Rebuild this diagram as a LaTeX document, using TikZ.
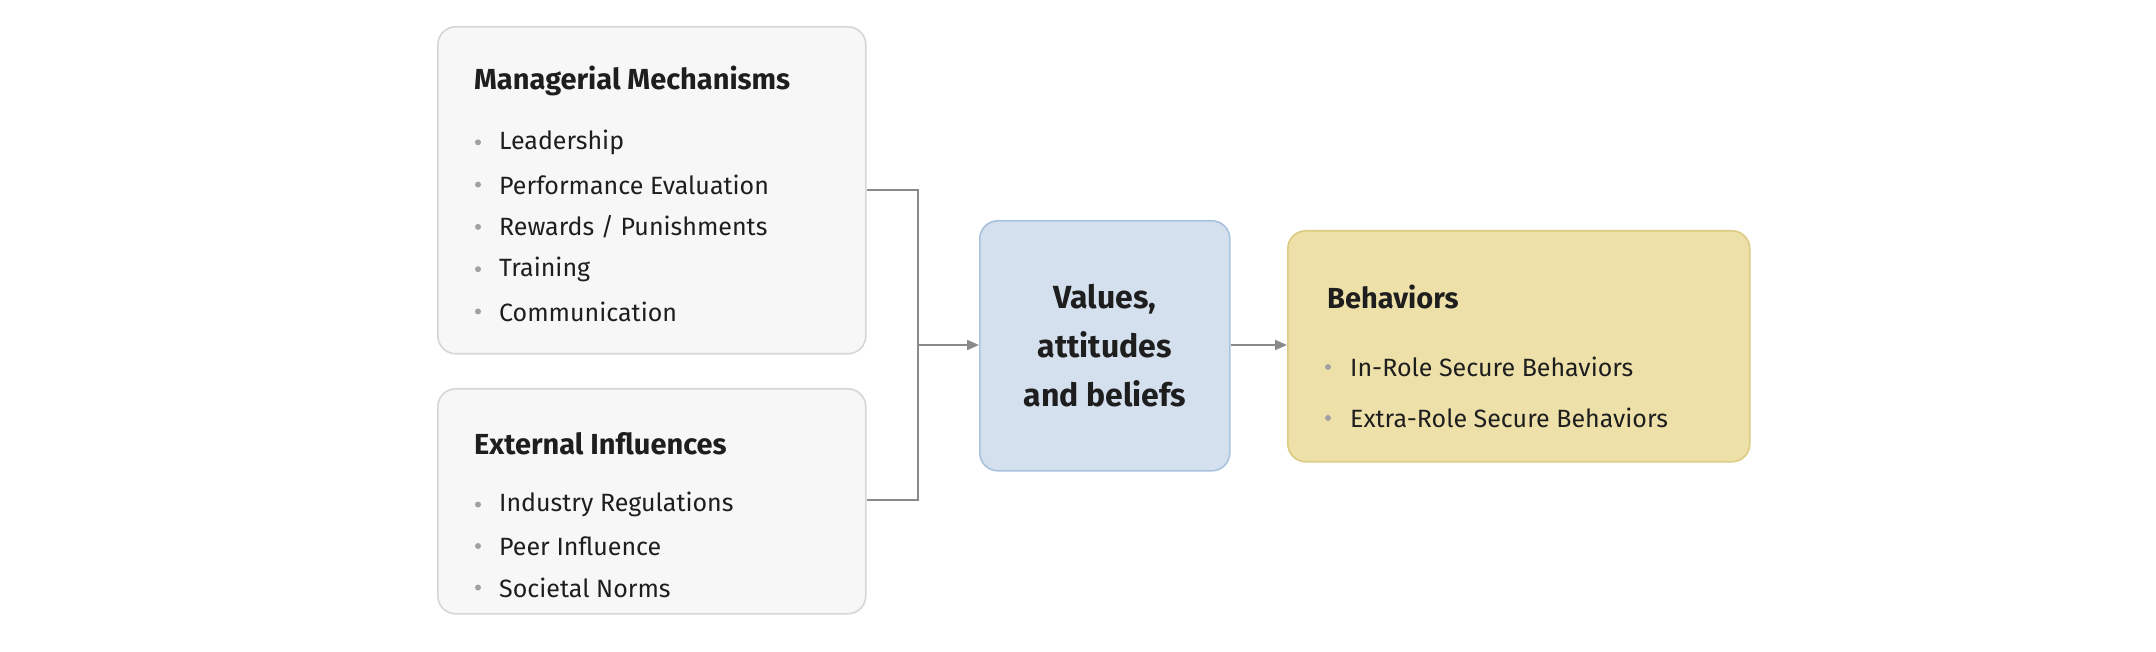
\documentclass[tikz,border=0pt]{standalone}
\usepackage{fontspec}
\setmainfont{Fira Sans}
\usetikzlibrary{arrows.meta,positioning}
\definecolor{boxgray}{HTML}{F7F7F7}
\definecolor{linegray}{HTML}{D6D6D6}
\definecolor{valblue}{HTML}{D4E0EE}
\definecolor{valline}{HTML}{A9C3DE}
\definecolor{behyellow}{HTML}{EEE0A9}
\definecolor{behline}{HTML}{DCCB82}
\definecolor{txt}{HTML}{1E1E1E}
\definecolor{conn}{HTML}{8A8A8A}

\tikzset{
  panel/.style={draw, line width=1.6pt, rounded corners=18pt, anchor=north west},
  title/.style={anchor=west, font=\fontsize{29}{34}\selectfont\bfseries, text=txt, inner sep=0pt},
  item/.style={anchor=west, font=\fontsize{25}{30}\selectfont, text=txt, inner sep=0pt},
  dot/.style={circle, fill=conn!80, inner sep=0pt, minimum size=6pt},
  link/.style={conn, line width=2pt},
}

\begin{document}
\begin{tikzpicture}[x=1pt,y=-1pt]
    \useasboundingbox (0,0) rectangle (2156,652);

    % boxes
    \node[panel, fill=boxgray, draw=linegray, minimum width=428pt, minimum height=327pt] (mm) at (437,26) {};
    \node[panel, fill=boxgray, draw=linegray, minimum width=428pt, minimum height=225pt] (ext) at (437,388) {};
    \node[panel, fill=valblue, draw=valline, minimum width=250pt, minimum height=250pt] (val) at (979,220) {};
    \node[panel, fill=behyellow, draw=behline, minimum width=462pt, minimum height=231pt] (beh) at (1287,230) {};

    % managerial mechanisms
    \node[title] (mmtitle) at (474,81) {Managerial Mechanisms};
    \foreach \t [count=\i] in {Leadership, Performance Evaluation, Rewards / Punishments, Training, Communication} {
        \node[dot] at (478,100+42.3*\i) {};
        \node[item] (mm\i) at (499,100+42.3*\i) {\t};
    }

    % external influences
    \node[title] (exttitle) at (474,444) {External Influences};
    \foreach \t [count=\i] in {Industry Regulations, Peer Influence, Societal Norms} {
        \node[dot] at (478,463+41.5*\i) {};
        \node[item] (ext\i) at (499,463+41.5*\i) {\t};
    }

    % values
    \node[align=center, font=\fontsize{32}{49}\selectfont\bfseries, text=txt] (valtext) at (val.center) {Values,\\attitudes\\and beliefs};

    % behaviors
    \node[title] (behtitle) at (1327,297) {Behaviors};
    \node[dot] at (1328,367) {};
    \node[item] (beh1) at (1350,367) {In-Role Secure Behaviors};
    \node[dot] at (1328,418) {};
    \node[item] (beh2) at (1350,418) {Extra-Role Secure Behaviors};

    % connectors
    \coordinate (join) at (918,345);
    \draw[link] (mm.east |- 0,190) -- (918,190) -- (918,500) -- (ext.east |- 0,500);
    \draw[link, -{Triangle[length=12pt,width=10pt]}] (join) -- (val.west |- join);
    \draw[link, -{Triangle[length=12pt,width=10pt]}] (val.east |- join) -- (beh.west |- join);
\end{tikzpicture}
\end{document}
